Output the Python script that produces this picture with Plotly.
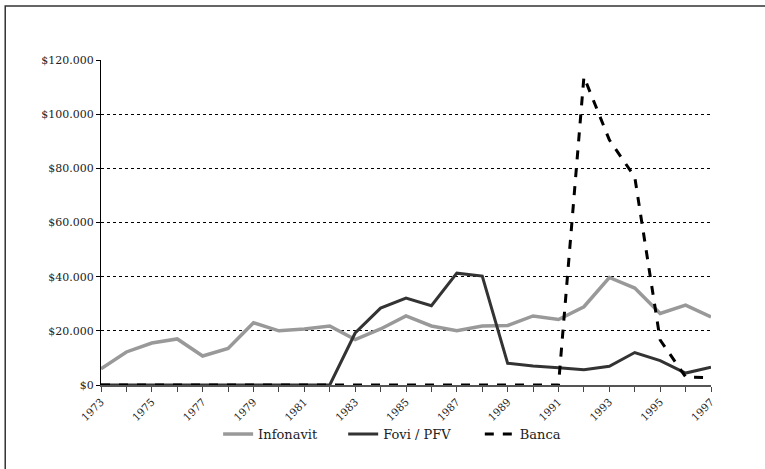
import plotly.graph_objects as go

# Annual housing credit amounts by source, 1973-1997
years = list(range(1973, 1998))

infonavit = [6000, 12200, 15500, 17000, 10700, 13500, 23000, 20000, 20700, 21800,
             16800, 20700, 25500, 21800, 20000, 21800, 22000, 25500, 24200, 28900,
             39700, 35800, 26400, 29500, 25100]

fovi_pfv = [0, 0, 0, 0, 0, 0, 0, 0, 0, 0,
            19200, 28400, 32100, 29300, 41300, 40200, 8000, 7000, 6400, 5600,
            6900, 12000, 9000, 4400, 6600]

banca = [0, 0, 0, 0, 0, 0, 0, 0, 0, 0,
         0, 0, 0, 0, 0, 0, 0, 0, 0, 113800,
         90500, 76800, 16600, 3000, 2700]

y_ticks = [0, 20000, 40000, 60000, 80000, 100000, 120000]
y_tick_labels = ["$0", "$20.000", "$40.000", "$60.000", "$80.000", "$100.000", "$120.000"]
x_tick_labels = [str(y) if (y - 1973) % 2 == 0 else "" for y in years]

FONT = "DejaVu Serif"
TEXT = "#222222"

fig = go.Figure()
fig.add_trace(go.Scatter(x=years, y=infonavit, name="Infonavit", mode="lines",
                         line=dict(color="#999999", width=3.5), legend="legend"))
fig.add_trace(go.Scatter(x=years, y=fovi_pfv, name="Fovi / PFV", mode="lines",
                         line=dict(color="#333333", width=3), legend="legend2"))
fig.add_trace(go.Scatter(x=years, y=banca, name="Banca", mode="lines",
                         line=dict(color="#000000", width=3, dash="dash"), legend="legend3"))


def legend_box(x):
    return dict(orientation="h", x=x, xanchor="left", y=-0.151, yanchor="middle",
                font=dict(family=FONT, size=13, color=TEXT),
                itemwidth=30, bgcolor="rgba(0,0,0,0)")


fig.update_layout(
    width=765, height=469,
    margin=dict(l=101, r=54, t=60, b=84),
    paper_bgcolor="white", plot_bgcolor="white",
    font=dict(family=FONT, color=TEXT),
    showlegend=True,
    legend=legend_box(0.192),
    legend2=legend_box(0.397),
    legend3=legend_box(0.621),
    shapes=[dict(type="rect", xref="paper", yref="paper",
                 x0=-0.157, x1=1.2, y0=-0.5, y1=1.166,
                 line=dict(color="#333333", width=1.5), fillcolor="rgba(0,0,0,0)",
                 layer="below")],
)

fig.update_xaxes(
    range=[1973, 1997], tickmode="array", tickvals=years, ticktext=x_tick_labels,
    tickangle=-45, ticks="outside", ticklen=5, tickcolor="#444444", tickwidth=1,
    showline=True, linecolor="#555555", linewidth=1.5, showgrid=False, zeroline=False,
    tickfont=dict(family=FONT, size=10.5, color=TEXT),
)
fig.update_yaxes(
    range=[0, 120000], tickmode="array", tickvals=y_ticks, ticktext=y_tick_labels,
    ticks="outside", ticklen=4, tickcolor="#000000", tickwidth=1,
    showline=True, linecolor="#000000", linewidth=1.2,
    showgrid=True, gridcolor="#000000", griddash="dot", gridwidth=1, zeroline=False,
    tickfont=dict(family=FONT, size=11, color=TEXT),
)

fig.write_html("out.html")
